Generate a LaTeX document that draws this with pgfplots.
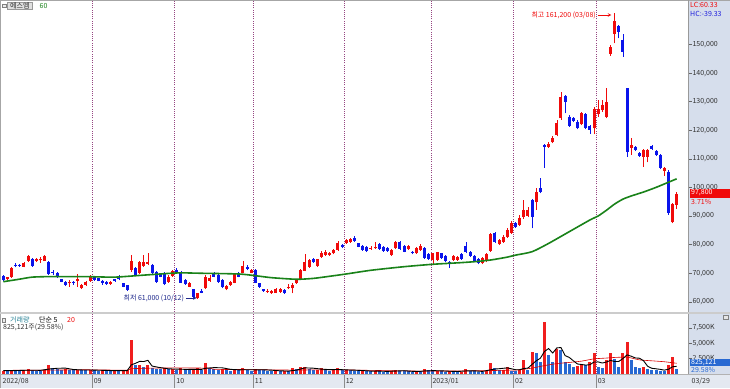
\documentclass[border=0pt]{standalone}
\usepackage{fontspec}
\setmainfont{Noto Sans CJK KR}
\usepackage{pgfplots}
\pgfplotsset{compat=1.18}
\usepackage{pgfplotstable}
\newcommand{\fs}{\fontsize{7bp}{8.4bp}\selectfont}
\definecolor{cRed}{RGB}{240,10,10}
\definecolor{cBlue}{RGB}{10,20,235}
\definecolor{vRed}{RGB}{240,30,30}
\definecolor{vBlue}{RGB}{40,105,210}
\definecolor{maG}{RGB}{25,130,25}
\definecolor{gridc}{RGB}{150,70,130}
\definecolor{panel}{RGB}{214,222,236}
\definecolor{strip}{RGB}{228,233,241}
\definecolor{tickc}{RGB}{50,50,50}
\definecolor{lowBlue}{RGB}{30,40,140}
\definecolor{hcBlue}{RGB}{30,30,220}
\definecolor{volTeal}{RGB}{40,130,150}

\pgfplotstableread{
i o h l c
0 69000 69300 67300 67600
1 67800 68800 67500 68500
2 68500 72200 68300 71900
3 73000 73500 72000 72600
4 72900 73300 72200 72500
5 72300 74000 72000 73650
6 74350 76300 74000 76000
7 74850 75200 72300 72500
8 74250 75300 74000 74850
9 74500 75500 73500 74850
10 74350 76400 74200 76000
11 74000 74400 69500 69700
12 70500 71000 69500 69900
13 70150 70400 68300 68500
14 67850 68000 66800 67000
15 67000 67200 65600 65850
16 66450 67500 65200 66800
17 67000 67300 66000 66400
18 67400 69700 65300 67800
19 64700 66100 64400 65850
20 65850 67300 65500 67000
21 67350 69300 67000 69000
22 68500 68800 67300 67600
23 68200 68400 67100 67350
24 67350 67600 66000 66450
25 67000 67300 66000 66200
26 66200 67300 66000 67000
27 67800 68000 67000 67400
28 68200 69500 67500 67800
29 66450 66700 65000 65250
30 65850 66000 63900 64100
31 71100 76350 70500 74350
32 71700 72000 69000 69350
33 70150 74400 69800 74000
34 72500 76350 72200 74000
35 73200 76900 72800 74000
36 72850 73200 69700 69950
37 70500 70800 66700 67000
38 69700 70000 68500 68750
39 70000 70300 65800 66200
40 67000 69200 66700 68800
41 69000 71200 68700 70850
42 71100 71700 69700 69950
43 70500 70800 66400 66650
44 67600 67900 66000 66200
45 65250 67000 65000 66650
46 64350 64600 61100 61500
47 61200 63200 61000 62900
48 63750 64600 62900 63150
49 64700 69500 64400 68750
50 67350 69300 67000 68400
51 69950 70300 68500 68750
52 69350 69600 66700 67000
53 67600 67900 64700 65050
54 64350 65800 64000 65500
55 65850 67300 65500 67000
56 66650 70200 66400 69950
57 70150 70400 68500 68750
58 70150 74350 69900 72500
59 72050 72800 71000 71350
60 70150 71500 69900 71100
61 71100 71500 66400 66650
62 66450 66700 64800 65050
63 64350 64600 63500 63750
64 63400 64300 63000 63750
65 62950 64200 62700 63850
66 63150 64900 62900 64550
67 63400 64800 63100 64550
68 64100 64400 62700 62950
69 64700 66300 64400 65250
70 64700 66600 62900 65900
71 66450 68100 66200 67850
72 67850 71400 67600 71100
73 70850 76700 70600 74000
74 72250 75000 71900 74600
75 74850 75200 73700 74000
76 72500 75100 72200 74850
77 75750 77850 75400 76950
78 76350 78000 76000 77500
79 76350 77500 76000 76950
80 76950 78500 76600 78100
81 78100 81350 77800 80450
82 79850 80200 78700 79000
83 80450 81900 80200 81600
84 81000 82300 80700 81950
85 82200 82900 81000 81300
86 80450 80700 79000 79250
87 79600 80000 77900 78100
88 79250 79500 77500 77750
89 78450 79400 78200 78900
90 78700 81000 78400 79250
91 80100 80400 78200 78450
92 79250 79500 77500 77750
93 78700 79000 77400 77750
94 76350 78400 76000 78100
95 78700 81300 78400 81000
96 81000 81300 78200 78450
97 79600 79900 77300 77500
98 78450 79900 78200 79600
99 77500 77800 76600 76950
100 76950 79200 76700 78900
101 78100 80200 77800 79600
102 78700 79000 75100 75400
103 76600 76900 74700 74950
104 74600 77200 73000 76950
105 74600 77500 74300 77300
106 76950 77200 75000 75200
107 76100 76400 74000 74250
108 74000 74300 71900 73450
109 74600 76400 74300 76100
110 74600 76000 74300 75750
111 76600 76900 74700 74950
112 79600 81000 77000 77300
113 77500 77800 75800 76100
114 76100 76400 74000 74250
115 74950 75200 73100 73450
116 73450 75500 73100 75200
117 74250 76900 73800 76600
118 77750 84000 77500 83600
119 83950 84300 80700 81000
120 80100 81900 79800 81600
121 81000 83300 80700 82750
122 82600 85800 82300 85000
123 84000 88300 83700 87500
124 87400 87800 85900 86250
125 86850 90350 86500 89150
126 89750 95600 89000 92100
127 90100 93000 89600 92100
128 95600 96000 85700 89750
129 94750 99650 92100 98500
130 99650 103150 97900 98250
131 114850 115200 106900 114250
132 114250 116000 113900 115100
133 115800 118000 115400 117200
134 118350 123500 117900 122450
135 124200 133500 123600 131750
136 132100 132500 125900 129800
137 124750 125200 121200 121600
138 124400 124800 122800 123250
139 123000 123500 120300 120700
140 122100 126300 121700 125950
141 125600 125900 120300 120700
142 121600 122000 118800 120100
143 120700 128000 118600 127450
144 125600 130600 124800 127450
145 127100 130600 126500 128850
146 124750 134700 124200 130000
147 146700 149800 146000 149250
148 153700 161200 150400 158350
149 156500 157000 152200 154500
150 151600 153700 145800 147500
151 134700 134900 110750 112500
152 113900 117200 111350 114850
153 114250 114600 112700 113100
154 111950 112300 110800 111100
155 110750 113400 107250 113100
156 110750 113400 108800 113100
157 114600 114900 113100 113450
158 112750 113000 111000 111350
159 111350 111600 106300 106700
160 105750 107000 104100 106700
161 105500 106100 90350 90900
162 87800 94400 87400 94300
163 93850 98500 92450 97800
}\candles

\pgfplotstableread{
i v r
0 520 1
1 480 0
2 700 1
3 620 0
4 500 0
5 560 1
6 750 1
7 680 0
8 520 0
9 480 0
10 600 1
11 1500 1
12 950 0
13 880 0
14 700 0
15 760 1
16 640 0
17 580 0
18 700 1
19 650 0
20 600 0
21 720 1
22 650 0
23 560 0
24 600 1
25 520 0
26 480 0
27 530 1
28 500 0
29 560 1
30 620 1
31 5600 1
32 1400 0
33 1500 1
34 1200 0
35 1450 1
36 900 0
37 850 0
38 800 0
39 900 1
40 750 0
41 800 1
42 700 0
43 900 1
44 750 0
45 650 0
46 800 1
47 950 1
48 700 0
49 1800 1
50 1000 0
51 800 0
52 700 0
53 750 1
54 600 0
55 550 0
56 800 1
57 650 0
58 900 1
59 600 0
60 550 0
61 800 1
62 700 0
63 600 0
64 520 0
65 480 0
66 500 1
67 450 0
68 480 1
69 460 0
70 980 1
71 800 0
72 1100 1
73 1200 1
74 800 0
75 650 0
76 700 1
77 900 1
78 700 0
79 550 0
80 650 1
81 900 1
82 600 0
83 650 1
84 600 0
85 550 0
86 500 0
87 520 1
88 450 0
89 420 0
90 500 1
91 450 0
92 400 0
93 380 0
94 450 1
95 700 1
96 550 0
97 450 0
98 420 0
99 380 0
100 450 1
101 420 0
102 815 1
103 600 0
104 500 0
105 550 1
106 420 0
107 400 0
108 450 1
109 420 0
110 380 0
111 400 1
112 870 1
113 500 0
114 420 0
115 400 0
116 380 0
117 500 1
118 1790 1
119 980 0
120 650 0
121 700 1
122 1090 1
123 540 0
124 500 0
125 650 1
126 2300 1
127 700 0
128 3650 1
129 3450 0
130 2000 0
131 8550 1
132 3100 0
133 2000 0
134 4000 1
135 3900 0
136 2000 0
137 1630 0
138 1200 0
139 1300 1
140 1630 1
141 1470 0
142 2000 1
143 3370 1
144 1090 0
145 1000 0
146 2280 1
147 3370 1
148 2400 0
149 1200 0
150 3370 1
151 5270 1
152 2280 0
153 1090 0
154 920 0
155 1200 1
156 760 0
157 700 0
158 650 0
159 550 0
160 500 0
161 1470 1
162 2720 1
163 825 0
}\vols

\pgfplotsset{
  chartbase/.style={
    anchor=south west, scale only axis,
    width=686.5bp,
    xmin=-0.44, xmax=165.75,
    axis line style={draw=none},
    xtick=\empty,
    extra x ticks={21.5,41.5,60.5,82.5,103.5,123.5,143.5},
    extra x tick labels={},
    extra x tick style={grid=major, major tick length=0pt},
    major grid style={gridc, line width=0.6bp, dash pattern=on 1bp off 1.2bp},
    ytick pos=right, yticklabel pos=right,
    tick align=outside, major tick length=3.5bp,
    y tick style={draw=black!60, line width=0.4bp},
    scaled y ticks=false,
    y tick label style={font=\fs, text=tickc, inner sep=0.8bp,
      /pgf/number format/fixed, /pgf/number format/1000 sep={,}},
    /pgf/number format/assume math mode=true,
  }
}

\begin{document}
\begin{tikzpicture}[x=1bp,y=1bp]
\useasboundingbox (0,0) rectangle (730,388);
\fill[white] (0,0) rectangle (730,388);
\fill[panel] (688,13) rectangle (730,388);
\fill[strip] (0,0) rectangle (730,13.5);

% price panel
\begin{axis}[chartbase, at={(1.5bp,76bp)}, height=311bp,
  ymin=56395, ymax=165245,
  ytick={60000,70000,80000,90000,100000,110000,120000,130000,140000,150000}]
\addplot[cRed, line width=0.7bp, mark=none, quiver={u=0, v=\thisrow{h}-\thisrow{l}},
  restrict expr to domain={\thisrow{c}-\thisrow{o}}{0:1000000}] table[x=i, y=l] {\candles};
\addplot[cBlue, line width=0.7bp, mark=none, quiver={u=0, v=\thisrow{h}-\thisrow{l}},
  restrict expr to domain={\thisrow{c}-\thisrow{o}}{-1000000:-1}] table[x=i, y=l] {\candles};
\addplot[cRed, line width=3bp, mark=none, quiver={u=0, v=\thisrow{c}-\thisrow{o}},
  restrict expr to domain={\thisrow{c}-\thisrow{o}}{0:1000000}] table[x=i, y=o] {\candles};
\addplot[cBlue, line width=3bp, mark=none, quiver={u=0, v=\thisrow{c}-\thisrow{o}},
  restrict expr to domain={\thisrow{c}-\thisrow{o}}{-1000000:-1}] table[x=i, y=o] {\candles};
\addplot[maG, line width=1.6bp, smooth, tension=0.4, mark=none] coordinates {
(0,67000) (4,67900) (7,68600) (12,68800) (21,68750) (27,68600) (34,69300) (40,69900)
(43,70100) (48,69950) (57,69700) (61,69100) (65,68400) (71,67850) (75,68150) (79,68900)
(83,69700) (89,71000) (97,72250) (104,73100) (110,73600) (114,74000) (118,74600)
(122,75600) (124,76300) (128,77500) (132,80400) (137,84500) (142,88600) (144,90000)
(146,92000) (148,94200) (150,95900) (152,97000) (155,98400) (158,100000) (161,101800)
(163,103000)};
\node[anchor=east, text=cRed, font=\fs, inner sep=0.5bp] at (axis cs:143.6,160345) {최고 161,200 (03/08)};
\draw[cRed, line width=0.6bp, -stealth] (axis cs:143.9,160345) -- (axis cs:147.2,160345);
\node[anchor=east, text=lowBlue, font=\fs, inner sep=0.5bp] at (axis cs:43.9,61300) {최저 61,000 (10/12)};
\draw[lowBlue, line width=0.6bp, -stealth] (axis cs:44.2,61300) -- (axis cs:46.8,61300);
\end{axis}

% volume panel
\begin{axis}[chartbase, at={(1.5bp,14bp)}, height=60bp,
  ymin=0, ymax=9780,
  ytick={2500,5000,7500}, yticklabels={{2,500K},{5,000K},{7,500K}}]
\addplot[vRed, line width=3bp, mark=none, quiver={u=0, v=\thisrow{v}},
  restrict expr to domain={\thisrow{r}}{0.5:1.5}] table[x=i, y expr=0] {\vols};
\addplot[vBlue, line width=3bp, mark=none, quiver={u=0, v=\thisrow{v}},
  restrict expr to domain={\thisrow{r}}{-0.5:0.5}] table[x=i, y expr=0] {\vols};
\addplot[red!85!black, line width=0.6bp, mark=none, smooth, tension=0.3] coordinates {
(0,600) (10,620) (20,690) (30,620) (31,870) (40,1000) (50,950) (51,760) (60,720)
(70,640) (80,700) (90,580) (100,480) (110,500) (118,560) (122,620) (124,640) (126,780)
(128,960) (131,1370) (134,1700) (137,1880) (140,2100) (143,2470) (146,2600) (148,2700)
(151,2750) (154,2300) (157,2150) (160,2000) (163,1750)};
\addplot[black, line width=0.9bp, mark=none] coordinates {
(0,560) (3,560) (6,620) (9,600) (11,800) (13,930) (15,960) (17,730) (19,660) (21,650)
(24,600) (27,540) (30,560) (31,1500) (32,1740) (33,2060) (34,2030) (35,2230) (36,1300)
(37,1160) (38,1040) (40,840) (42,800) (44,760) (46,760) (48,760) (49,940) (51,1040)
(53,1010) (55,760) (57,680) (59,700) (61,680) (63,690) (65,620) (67,520) (69,470)
(71,640) (73,1000) (75,950) (77,800) (79,710) (81,740) (83,670) (85,630) (87,560)
(89,480) (91,460) (93,430) (95,480) (97,540) (99,440) (101,440) (102,500) (104,550)
(106,520) (108,450) (110,410) (112,500) (114,520) (116,420) (118,690) (119,810)
(120,860) (122,1000) (124,700) (125,700) (126,900) (127,960) (128,1560) (129,2150)
(130,2560) (131,3670) (132,4150) (133,3420) (134,4260) (135,4310) (136,3000)
(137,2700) (138,2150) (139,1630) (140,1550) (141,1450) (142,1520) (143,1950)
(144,1970) (145,1790) (146,1950) (147,2220) (148,2030) (149,2050) (150,2520)
(151,3120) (152,2900) (153,2620) (154,2570) (155,2150) (156,1250) (157,930)
(158,850) (159,760) (160,630) (161,770) (162,1180) (163,1250)};
\end{axis}

% frames and separators
\draw[black!35, line width=0.6bp] (0,387.4) -- (730,387.4);
\draw[black!35, line width=0.6bp] (0.6,0) -- (0.6,388);
\draw[black!40, line width=0.6bp] (688,13.5) -- (688,388);
\fill[black!20] (0,74) rectangle (730,76);
\draw[black!30, line width=0.6bp] (0,13.6) -- (730,13.6);

% top-left legend
\draw[black!50, line width=0.5bp, fill=black!8] (2.3,380.5) rectangle (5.8,384);
\node[draw=black!40, fill=black!12, inner xsep=3bp, inner ysep=0.6bp, anchor=west, font=\fs, text=black!85] at (7,382.2) {에스엠};
\node[anchor=west, font=\fs, text=maG, inner sep=0.5bp] at (39,382.2) {60};

% volume legend
\draw[black!50, line width=0.5bp, fill=black!8] (2.3,66.2) rectangle (5.5,69.4);
\node[anchor=west, font=\fs, text=volTeal, inner sep=0.5bp] at (9.5,68) {거래량};
\node[anchor=west, font=\fs, text=black, inner sep=0.5bp] at (38.5,68) {단순 5};
\node[anchor=west, font=\fs, text=cRed, inner sep=0.5bp] at (66.5,68) {20};
\node[anchor=west, font=\fs, text=black!80, inner sep=0.5bp] at (2.5,60.5) {825,121주(29.58\%)};

% right panel labels
\node[anchor=west, font=\fs, text=cRed, inner sep=0.5bp] at (689.5,382.6) {LC:60.33};
\node[anchor=west, font=\fs, text=hcBlue, inner sep=0.5bp] at (689.5,374.3) {HC:-39.33};
\fill[cRed] (689.5,190.5) rectangle (730,199.3);
\node[anchor=west, font=\fs, text=white, inner sep=0.5bp] at (690.5,194.9) {97,800};
\node[anchor=west, font=\fs, text=cRed, inner sep=0.5bp] at (690.5,186.3) {3.71\%};
\fill[vBlue] (689.5,21.7) rectangle (730,29.3);
\node[anchor=west, font=\fs, text=white, inner sep=0.5bp] at (690.5,25.5) {825,121};
\node[anchor=west, font=\fs, text=vBlue, inner sep=0.5bp] at (690.5,17.8) {29.58\%};
\draw[black!50, line width=0.5bp, fill=black!10] (723.5,68.5) rectangle (728.5,73);

% date strip
\node[anchor=west, font=\fs, text=tickc, inner sep=0.5bp] at (2,6.8) {2022/08};
\foreach \p/\t in {92.1/09,174.7/10,253.2/11,344.1/12,430.9/2023\slash 01,513.5/02,596.1/03} {
  \draw[black!45, line width=0.5bp] (\p,0) -- (\p,13.5);
  \node[anchor=west, font=\fs, text=tickc, inner sep=0.5bp] at (\p+1,6.8) {\t};
}
\node[anchor=west, font=\fs, text=tickc, inner sep=0.5bp] at (691,6.8) {03/29};
\end{tikzpicture}
\end{document}
